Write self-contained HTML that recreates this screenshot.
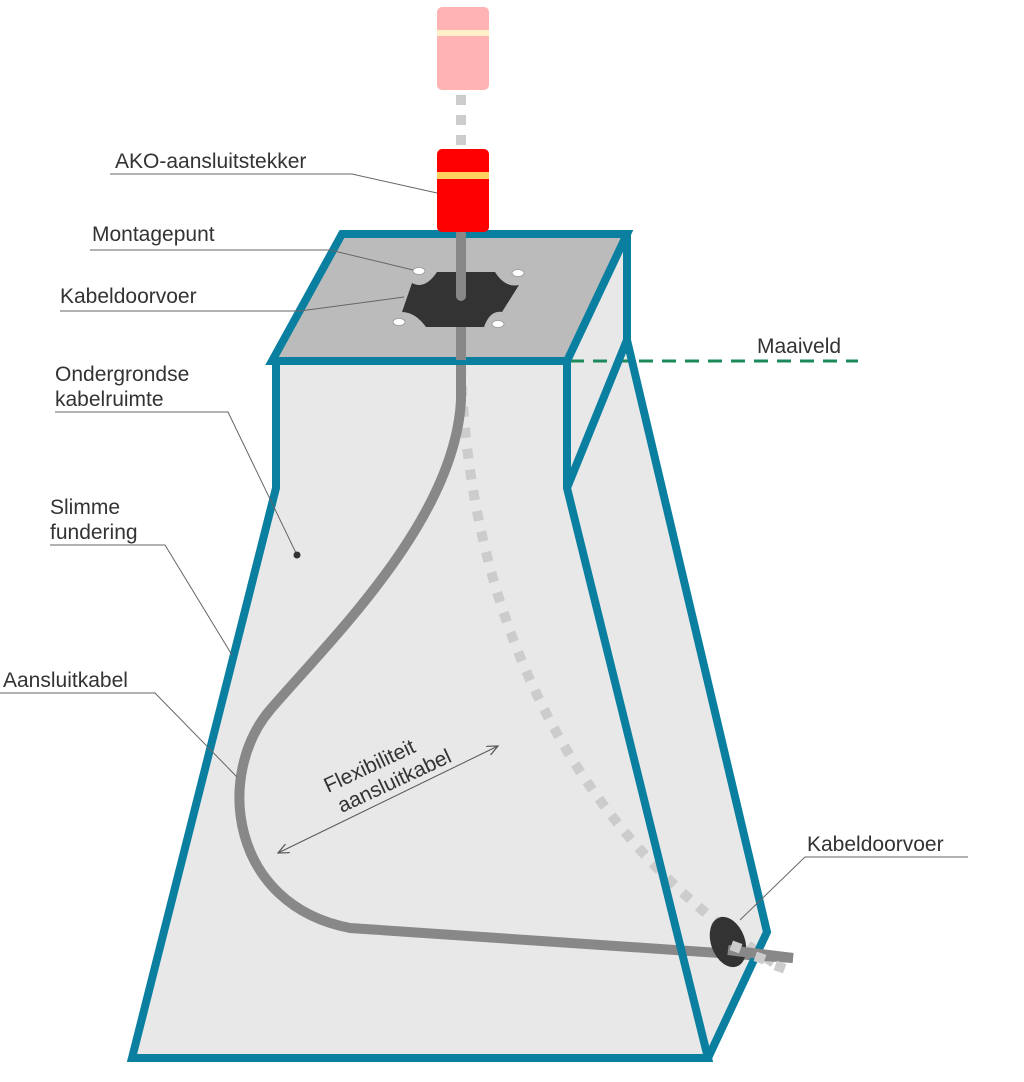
<!DOCTYPE html>
<html><head><meta charset="utf-8"><style>
html,body{margin:0;padding:0;background:#fff}
svg{display:block}
text{font-family:"Liberation Sans",sans-serif;font-size:21px;fill:#333}
</style></head><body>
<svg width="1024" height="1082" viewBox="0 0 1024 1082" xmlns="http://www.w3.org/2000/svg">
<defs>
<marker id="ah" markerWidth="12" markerHeight="10" refX="11" refY="5" orient="auto-start-reverse" markerUnits="userSpaceOnUse">
<path d="M0,0 L11,5 L0,10" fill="none" stroke="#555" stroke-width="1.2"/></marker>
</defs>
<!-- faces -->
<polygon points="627,234 627,340 767,932 708,1058 567,488 567,361" fill="#e8e8e8"/>
<polygon points="272,361 567,361 567,488 708,1058 132,1058 276,488" fill="#e8e8e8"/>
<polygon points="342,234 627,234 567,361 272,361" fill="#bbbbbb"/>
<!-- dashed ground line -->
<line x1="570" y1="361" x2="858" y2="361" stroke="#1a8a5a" stroke-width="3" stroke-dasharray="14 9"/>
<!-- cables -->
<path d="M461,365 C468,600 560,830 782,968" fill="none" stroke="#cccccc" stroke-width="10" stroke-dasharray="10 11"/>
<path d="M461,361 L461,400 C455,520 330,640 270,710 C215,775 230,905 350,928 L793,958" fill="none" stroke="#888" stroke-width="10"/>
<line x1="461" y1="95" x2="461" y2="145" stroke="#ccc" stroke-width="10" stroke-dasharray="10 10"/>
<!-- frame -->
<g fill="none" stroke="#0a7fa0" stroke-width="8" stroke-linejoin="miter">
<polygon points="342,234 627,234 567,361 272,361"/>
<polyline points="276,361 276,488 132,1058 708,1058 567,488 567,361"/>
<polyline points="627,234 627,340 767,932 708,1058"/>
<line x1="567" y1="488" x2="627" y2="340"/>
</g>
<!-- top details -->
<line x1="461" y1="234" x2="461" y2="360" stroke="#888" stroke-width="10"/>
<path d="M412,283 Q425,290 437,272 L495,272 Q505,288 519,285 L502,312 Q490,310 484,327 L426,327 Q415,312 402,312 Z" fill="#333"/>
<line x1="461" y1="234" x2="461" y2="296" stroke="#888" stroke-width="10" stroke-linecap="round"/>
<g fill="#fff" stroke="#999" stroke-width="0.8">
<ellipse cx="419" cy="271" rx="6" ry="3.5"/><ellipse cx="518" cy="273" rx="6" ry="3.5"/>
<ellipse cx="399" cy="322" rx="6" ry="3.5"/><ellipse cx="498" cy="324" rx="6" ry="3.5"/>
</g>
<!-- plugs -->
<rect x="437" y="7" width="52" height="83" rx="5" fill="#ffb3b3"/>
<rect x="437" y="30" width="52" height="6" fill="#fff0c8"/>
<rect x="437" y="149" width="52" height="83" rx="5" fill="#ff0000"/>
<rect x="437" y="172" width="52" height="7" fill="#ffd060"/>
<!-- grommet -->
<ellipse cx="728" cy="942" rx="17" ry="26" transform="rotate(-20 728 942)" fill="#333"/>
<line x1="728" y1="950" x2="793" y2="958" stroke="#888" stroke-width="10"/>
<rect x="731" y="942" width="10" height="10" fill="#ccc" transform="rotate(20 736 947)"/>
<rect x="755" y="953" width="10" height="10" fill="#ccc" transform="rotate(20 760 958)"/>
<rect x="775" y="962" width="10" height="10" fill="#ccc" transform="rotate(20 780 967)"/>
<!-- leaders -->
<g fill="none" stroke="#666" stroke-width="1">
<polyline points="110,174 352,174 437,193"/>
<polyline points="90,250 330,250 413,270"/>
<polyline points="60,311 300,311 404,297"/>
<polyline points="55,412 228,412 297,555"/>
<polyline points="50,545 165,545 232,655"/>
<polyline points="0,693 155,693 237,777"/>
<polyline points="968,857 805,857 740,920"/>
<line x1="278" y1="853" x2="498" y2="746" stroke="#555" marker-start="url(#ah)" marker-end="url(#ah)"/>
</g>
<circle cx="297" cy="555" r="3.5" fill="#333"/>
<!-- labels -->
<text x="115" y="168">AKO-aansluitstekker</text>
<text x="92" y="241">Montagepunt</text>
<text x="60" y="303">Kabeldoorvoer</text>
<text x="757" y="353">Maaiveld</text>
<text x="55" y="381">Ondergrondse</text>
<text x="55" y="406">kabelruimte</text>
<text x="50" y="514">Slimme</text>
<text x="50" y="539">fundering</text>
<text x="3" y="687">Aansluitkabel</text>
<text x="807" y="851">Kabeldoorvoer</text>
<g transform="translate(328,793) rotate(-25)"><text x="0" y="0">Flexibiliteit</text><text x="4" y="24">aansluitkabel</text></g>
</svg>
</body></html>
